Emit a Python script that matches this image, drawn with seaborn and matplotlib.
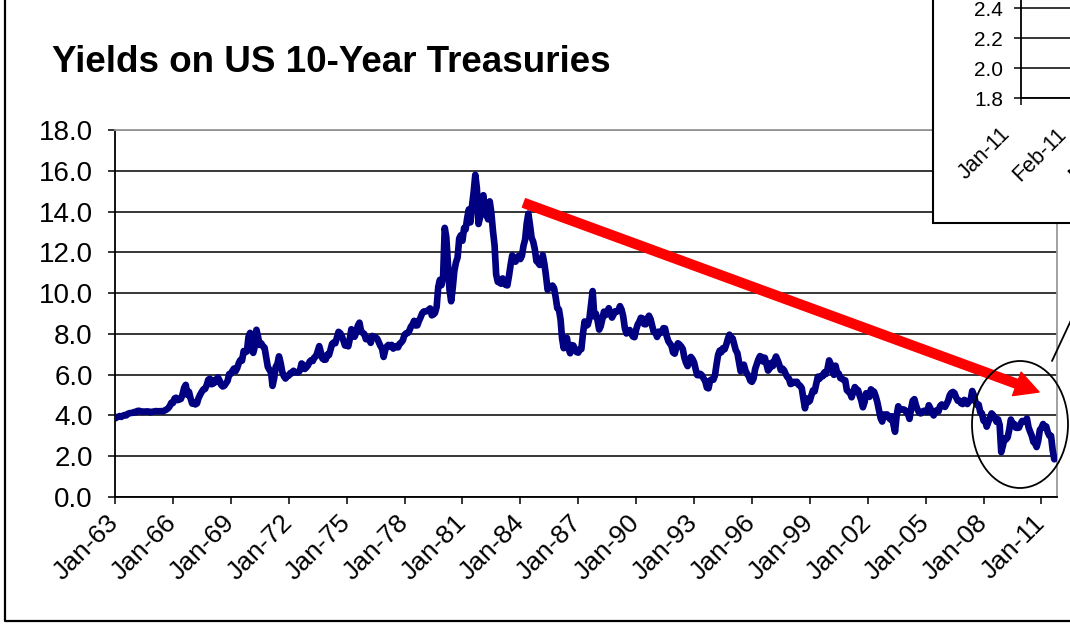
import matplotlib
matplotlib.use("Agg")
import matplotlib.pyplot as plt
import matplotlib.transforms as mtransforms
import pandas as pd
import seaborn as sns
from matplotlib.patches import Ellipse, FancyArrowPatch, Rectangle, ArrowStyle
from matplotlib.lines import Line2D

# ---------------- data (monthly 10-year yields) ----------------
start_month = "1963-01"
yields = [
    3.85, 3.92, 3.93, 3.97, 3.93, 3.99, 4.02, 4.00, 4.08, 4.11, 4.12, 4.13,   # 1963
    4.17, 4.15, 4.22, 4.23, 4.20, 4.17, 4.19, 4.19, 4.20, 4.19, 4.15, 4.18,   # 1964
    4.19, 4.21, 4.21, 4.20, 4.21, 4.21, 4.20, 4.25, 4.29, 4.35, 4.45, 4.62,   # 1965
    4.61, 4.83, 4.87, 4.75, 4.78, 4.81, 5.02, 5.35, 5.50, 5.01, 5.16, 4.84,   # 1966
    4.58, 4.63, 4.54, 4.59, 4.85, 5.02, 5.16, 5.28, 5.30, 5.48, 5.75, 5.80,   # 1967
    5.53, 5.56, 5.74, 5.64, 5.87, 5.72, 5.50, 5.42, 5.46, 5.58, 5.70, 6.03,   # 1968
    6.04, 6.19, 6.30, 6.17, 6.32, 6.57, 6.72, 6.69, 7.16, 7.10, 7.14, 7.85,   # 1969
    8.05, 7.24, 7.07, 7.39, 8.20, 7.84, 7.46, 7.53, 7.39, 7.33, 6.84, 6.39,   # 1970
    6.24, 6.11, 5.45, 5.83, 6.39, 6.52, 6.90, 6.58, 6.14, 5.93, 5.81, 5.93,   # 1971
    5.95, 6.08, 6.07, 6.19, 6.13, 6.11, 6.11, 6.21, 6.55, 6.48, 6.28, 6.36,   # 1972
    6.46, 6.64, 6.71, 6.67, 6.85, 6.90, 7.13, 7.40, 7.09, 6.79, 6.73, 6.74,   # 1973
    6.99, 6.96, 7.21, 7.51, 7.58, 7.54, 7.81, 8.10, 8.04, 7.90, 7.68, 7.43,   # 1974
    7.50, 7.39, 7.73, 8.23, 8.06, 7.86, 8.06, 8.40, 8.55, 8.14, 8.05, 8.00,   # 1975
    7.74, 7.79, 7.73, 7.56, 7.90, 7.86, 7.83, 7.77, 7.59, 7.41, 7.29, 6.87,   # 1976
    7.21, 7.39, 7.46, 7.37, 7.46, 7.28, 7.33, 7.40, 7.34, 7.52, 7.58, 7.69,   # 1977
    7.96, 8.03, 8.04, 8.15, 8.35, 8.46, 8.64, 8.41, 8.42, 8.64, 8.81, 9.01,   # 1978
    9.10, 9.10, 9.12, 9.18, 9.25, 8.91, 8.95, 9.03, 9.33, 10.30, 10.65, 10.39,  # 1979
    10.80, 13.20, 12.75, 11.47, 10.18, 9.60, 10.25, 11.10, 11.51, 11.75, 12.68, 12.84,  # 1980
    12.57, 13.19, 13.12, 13.68, 14.10, 13.47, 14.28, 14.94, 15.80, 15.15, 13.39, 13.72,  # 1981
    14.59, 14.80, 13.86, 13.87, 13.62, 14.50, 13.95, 13.06, 12.34, 10.91, 10.55, 10.54,  # 1982
    10.46, 10.72, 10.51, 10.40, 10.38, 10.85, 11.38, 11.85, 11.65, 11.54, 11.69, 11.83,  # 1983
    11.67, 11.84, 12.32, 12.63, 13.41, 13.90, 13.36, 12.72, 12.52, 12.16, 11.57, 11.50,  # 1984
    11.38, 11.51, 11.86, 11.43, 10.85, 10.16, 10.31, 10.33, 10.37, 10.24, 9.78, 9.26,    # 1985
    9.19, 8.70, 7.78, 7.30, 7.71, 7.80, 7.30, 7.05, 7.45, 7.43, 7.25, 7.11,   # 1986
    7.08, 7.25, 7.25, 8.02, 8.61, 8.40, 8.45, 8.76, 9.42, 10.10, 8.86, 8.99,  # 1987
    8.67, 8.21, 8.37, 8.72, 9.09, 8.92, 9.06, 9.26, 8.98, 8.80, 8.96, 9.11,   # 1988
    9.09, 9.17, 9.36, 9.18, 8.86, 8.28, 8.02, 8.11, 8.19, 8.01, 7.87, 7.84,   # 1989
    8.21, 8.47, 8.59, 8.79, 8.76, 8.48, 8.47, 8.75, 8.89, 8.72, 8.39, 8.08,   # 1990
    8.09, 7.85, 8.11, 8.04, 8.07, 8.28, 8.27, 7.90, 7.65, 7.53, 7.42, 7.09,   # 1991
    7.03, 7.34, 7.54, 7.48, 7.39, 7.26, 6.84, 6.59, 6.42, 6.59, 6.87, 6.77,   # 1992
    6.60, 6.26, 5.98, 5.97, 6.04, 5.96, 5.81, 5.68, 5.36, 5.33, 5.72, 5.77,   # 1993
    5.75, 5.97, 6.48, 6.97, 7.18, 7.10, 7.30, 7.24, 7.46, 7.74, 7.96, 7.81,   # 1994
    7.78, 7.47, 7.20, 7.06, 6.63, 6.17, 6.28, 6.49, 6.20, 6.04, 5.93, 5.71,   # 1995
    5.65, 5.81, 6.27, 6.51, 6.74, 6.91, 6.87, 6.64, 6.83, 6.53, 6.20, 6.30,   # 1996
    6.58, 6.42, 6.69, 6.89, 6.71, 6.49, 6.22, 6.30, 6.21, 6.03, 5.88, 5.81,   # 1997
    5.54, 5.57, 5.65, 5.64, 5.65, 5.50, 5.46, 5.34, 4.81, 4.35, 4.83, 4.65,   # 1998
    4.72, 5.00, 5.23, 5.18, 5.54, 5.90, 5.79, 5.94, 5.92, 6.11, 6.03, 6.28,   # 1999
    6.70, 6.52, 6.26, 5.99, 6.44, 6.10, 6.05, 5.83, 5.80, 5.74, 5.72, 5.24,   # 2000
    5.16, 5.10, 4.89, 5.14, 5.39, 5.28, 5.24, 4.97, 4.73, 4.40, 4.65, 5.09,   # 2001
    5.04, 4.91, 5.28, 5.21, 5.16, 4.93, 4.65, 4.26, 3.87, 3.70, 4.05, 4.03,   # 2002
    4.05, 3.90, 3.81, 3.96, 3.57, 3.20, 3.98, 4.45, 4.27, 4.29, 4.30, 4.27,   # 2003
    4.15, 4.08, 3.83, 4.35, 4.72, 4.80, 4.50, 4.28, 4.13, 4.10, 4.19, 4.23,   # 2004
    4.22, 4.17, 4.50, 4.34, 4.14, 4.00, 4.18, 4.26, 4.20, 4.46, 4.54, 4.47,   # 2005
    4.42, 4.57, 4.72, 4.99, 5.11, 5.15, 5.09, 4.88, 4.72, 4.73, 4.60, 4.56,   # 2006
    4.76, 4.72, 4.56, 4.69, 4.75, 5.20, 5.00, 4.67, 4.52, 4.53, 4.15, 4.10,   # 2007
    3.74, 3.74, 3.45, 3.68, 3.88, 4.10, 4.01, 3.89, 3.69, 3.81, 3.53, 2.20,   # 2008
    2.52, 2.87, 2.82, 2.93, 3.29, 3.80, 3.56, 3.59, 3.40, 3.39, 3.40, 3.59,   # 2009
    3.73, 3.69, 3.73, 3.85, 3.42, 3.20, 3.01, 2.70, 2.65, 2.45, 2.76, 3.29,   # 2010
    3.39, 3.58, 3.41, 3.46, 3.17, 3.00, 3.00, 2.30, 1.85,                     # 2011
]
tick_years = list(range(1963, 2012, 3))
tick_labels = [f"Jan-{y % 100:02d}" for y in tick_years]
y_ticks = [0, 2, 4, 6, 8, 10, 12, 14, 16, 18]

inset_months = ["Jan-11", "Feb-11", "Mar-11", "Apr-11", "May-11",
                "Jun-11", "Jul-11", "Aug-11", "Sep-11"]
inset_values = yields[-9:]
inset_y_ticks = [1.8, 2.0, 2.2, 2.4, 2.6, 2.8, 3.0, 3.2, 3.4, 3.6, 3.8]

title = "Yields on US 10-Year Treasuries"

# ---------------- style ----------------
sns.set_style("white")
plt.rcParams["font.family"] = ["Liberation Sans", "DejaVu Sans"]
plt.rcParams["text.color"] = "black"
plt.rcParams["xtick.color"] = "black"
plt.rcParams["ytick.color"] = "black"
plt.rcParams["axes.labelcolor"] = "black"

W, H = 1070, 624
fig = plt.figure(figsize=(W / 100, H / 100), dpi=100)
fig.patch.set_facecolor("white")


def fx(px):
    return px / W


def fy(py):
    return 1 - py / H


# ---------------- main axes ----------------
ax = fig.add_axes([fx(115), fy(497), fx(1057) - fx(115), fy(130) - fy(497)])
df = pd.DataFrame({"date": pd.date_range(start_month, periods=len(yields), freq="MS"),
                   "yield": yields})
sns.lineplot(data=df, x="date", y="yield", ax=ax, color="#000080", linewidth=4.8,
             solid_joinstyle="round", solid_capstyle="round", zorder=3)

ax.set_xlim(pd.Timestamp("1963-01-01"), pd.Timestamp("2011-10-22"))
ax.set_ylim(0, 18)
ax.set_yticks(y_ticks)
ax.set_yticklabels([f"{v:.1f}" for v in y_ticks], fontsize=20, color="black")
ax.set_xticks([pd.Timestamp(f"{y}-01-01") for y in tick_years])
ax.set_xticklabels(tick_labels, rotation=45, ha="right", va="center",
                   rotation_mode="anchor", fontsize=19, color="black")
ax.set_xlabel("")
ax.set_ylabel("")
ax.yaxis.grid(True, color="black", linewidth=1.1)
ax.xaxis.grid(False)
ax.tick_params(axis="both", which="major", bottom=True, left=True, direction="out",
               length=5, width=1.1, color="black")
ax.tick_params(axis="y", pad=11)
ax.tick_params(axis="x", pad=11)
for side in ("left", "bottom"):
    ax.spines[side].set_color("black")
    ax.spines[side].set_linewidth(1.3)
for side in ("top", "right"):
    ax.spines[side].set_color("#9a9a9a")
    ax.spines[side].set_linewidth(1.3)

fig.text(fx(52), fy(72), title, fontsize=26.5, fontweight="bold", ha="left",
         va="baseline", color="black")

# ---------------- annotations ----------------
arrow = FancyArrowPatch((fx(524), fy(203)), (fx(1039), fy(392)),
                        transform=fig.transFigure,
                        arrowstyle=ArrowStyle.Simple(head_length=17, head_width=18,
                                                     tail_width=6.5),
                        mutation_scale=1, color="red", shrinkA=0, shrinkB=0,
                        zorder=4)
fig.add_artist(arrow)

fig.add_artist(Ellipse((fx(1020), fy(424.5)), 96 / W, 127 / H,
                       transform=fig.transFigure, fill=False, edgecolor="black",
                       linewidth=1.3, zorder=4))
fig.add_artist(Line2D([fx(1052), fx(1073)], [fy(361), fy(316)],
                      transform=fig.transFigure, color="black", linewidth=1.3,
                      zorder=4))

# outer chart frame (left and bottom visible)
fig.add_artist(Line2D([fx(5), fx(5), 1.0], [1.0, fy(621), fy(621)],
                      transform=fig.transFigure, color="black", linewidth=1.6,
                      zorder=4))

# ---------------- inset chart (mostly outside the canvas) ----------------
fig.add_artist(Rectangle((fx(933), fy(223)), 0.3, 0.6, transform=fig.transFigure,
                         facecolor="white", edgecolor="black", linewidth=1.5,
                         zorder=5))
month_px = 56
ax2 = fig.add_axes([fx(1021), fy(98), len(inset_months) * month_px / W,
                    (inset_y_ticks[-1] - inset_y_ticks[0]) * 150 / H])
ax2.set_zorder(6)
ax2.patch.set_alpha(0)
sns.lineplot(x=list(range(len(inset_values))), y=inset_values, ax=ax2,
             color="#000080", linewidth=3)
ax2.set_xlim(0, len(inset_months))
ax2.set_ylim(inset_y_ticks[0], inset_y_ticks[-1])
ax2.set_yticks(inset_y_ticks)
ax2.set_yticklabels([f"{v:.1f}" for v in inset_y_ticks], fontsize=15, color="black")
ax2.set_xticks(list(range(len(inset_months))))
ax2.set_xticklabels(inset_months, rotation=45, ha="right", va="center",
                    rotation_mode="anchor", fontsize=15.5, color="black")
ax2.yaxis.grid(True, color="black", linewidth=1.1)
ax2.xaxis.grid(False)
ax2.tick_params(axis="both", bottom=True, left=True, direction="out", length=5,
                width=1.1, color="black")
ax2.tick_params(axis="y", pad=8)
ax2.tick_params(axis="x", pad=19)
shift = mtransforms.ScaledTranslation(-14 / 100, 0, fig.dpi_scale_trans)
for lbl in ax2.get_xticklabels():
    lbl.set_transform(lbl.get_transform() + shift)
for side in ("left", "bottom"):
    ax2.spines[side].set_color("black")
    ax2.spines[side].set_linewidth(1.3)
for side in ("top", "right"):
    ax2.spines[side].set_visible(False)

fig.savefig("out.png", dpi=100)
